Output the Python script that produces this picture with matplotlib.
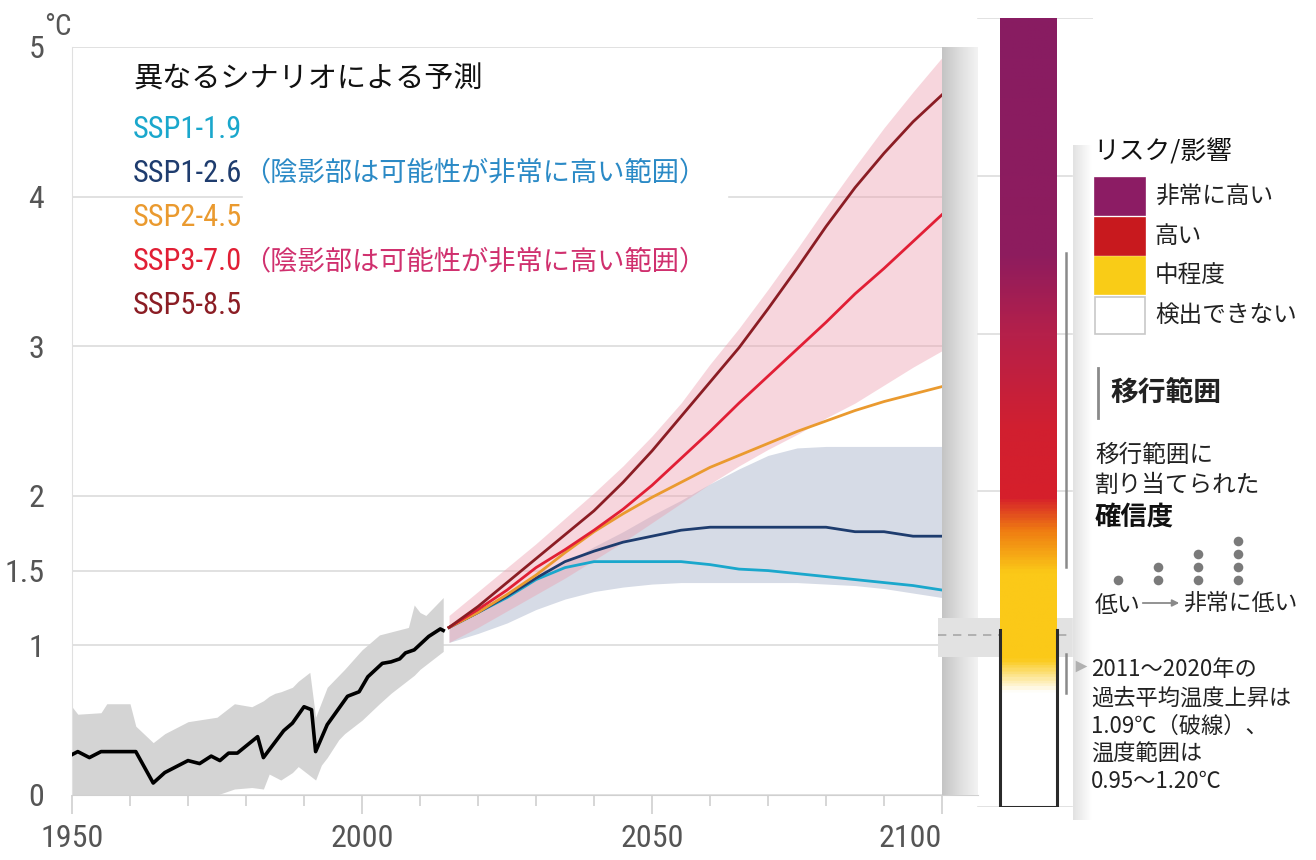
import os
import matplotlib.pyplot as plt
import numpy as np
from matplotlib import font_manager as fm
from matplotlib.colors import LinearSegmentedColormap
from matplotlib.patches import Rectangle

hist_years = [1950, 1951, 1953, 1955, 1961, 1964, 1966, 1970, 1972, 1974, 1975.5, 1977,
              1978.5, 1982, 1983, 1986.5, 1988, 1990, 1991.3, 1992, 1994, 1997.5, 1999.5,
              2001, 2003.5, 2005, 2006.5, 2007.5, 2009, 2011.5, 2013.5, 2014]
hist_mean = [0.27, 0.29, 0.25, 0.29, 0.29, 0.08, 0.15, 0.23, 0.21, 0.26, 0.23, 0.28,
             0.28, 0.39, 0.25, 0.43, 0.48, 0.59, 0.57, 0.29, 0.47, 0.66, 0.69,
             0.79, 0.88, 0.89, 0.91, 0.95, 0.97, 1.06, 1.11, 1.10]
hist_band_years = [1950, 1951, 1955, 1956, 1960, 1961, 1964, 1966, 1970, 1975, 1978, 1981,
                   1983, 1984, 1985, 1986, 1988, 1989, 1991, 1992, 1993, 1994, 1996, 1997,
                   2000, 2003, 2005, 2008, 2009, 2010, 2011, 2014]
hist_lo = [0, 0, 0, 0, 0, 0, 0, 0, 0, 0, 0.04, 0.05,
           0.04, 0.14, 0.12, 0.10, 0.15, 0.19, 0.13, 0.10, 0.20, 0.25, 0.37, 0.41,
           0.50, 0.61, 0.68, 0.77, 0.80, 0.84, 0.87, 0.96]
hist_hi = [0.59, 0.54, 0.55, 0.61, 0.61, 0.46, 0.35, 0.41, 0.49, 0.52, 0.61, 0.59,
           0.63, 0.66, 0.68, 0.69, 0.72, 0.76, 0.82, 0.52, 0.62, 0.72, 0.80, 0.84,
           0.97, 1.07, 1.09, 1.12, 1.27, 1.22, 1.20, 1.32]

# scenario projections
proj_years = [2015, 2020, 2025, 2030, 2035, 2040, 2045, 2050, 2055, 2060,
              2065, 2070, 2075, 2080, 2085, 2090, 2095, 2100]
ssp119 = [1.12, 1.22, 1.32, 1.44, 1.52, 1.56, 1.56, 1.56, 1.56, 1.54,
          1.51, 1.50, 1.48, 1.46, 1.44, 1.42, 1.40, 1.37]
ssp126 = [1.12, 1.22, 1.33, 1.45, 1.56, 1.63, 1.69, 1.73, 1.77, 1.79,
          1.79, 1.79, 1.79, 1.79, 1.76, 1.76, 1.73, 1.73]
ssp245 = [1.12, 1.22, 1.34, 1.47, 1.62, 1.76, 1.88, 1.99, 2.09, 2.19,
          2.27, 2.35, 2.43, 2.50, 2.57, 2.63, 2.68, 2.73]
ssp370 = [1.12, 1.24, 1.37, 1.52, 1.64, 1.77, 1.91, 2.07, 2.25, 2.43,
          2.62, 2.80, 2.98, 3.16, 3.35, 3.52, 3.70, 3.88]
ssp585 = [1.12, 1.26, 1.42, 1.58, 1.74, 1.90, 2.09, 2.30, 2.53, 2.76,
          2.99, 3.25, 3.52, 3.80, 4.06, 4.29, 4.50, 4.68]
ssp126_lo = [1.02, 1.08, 1.15, 1.24, 1.31, 1.36, 1.39, 1.41, 1.42, 1.42,
             1.42, 1.42, 1.42, 1.41, 1.40, 1.38, 1.35, 1.32]
ssp126_hi = [1.13, 1.24, 1.34, 1.45, 1.55, 1.66, 1.76, 1.87, 1.97, 2.08,
             2.18, 2.27, 2.32, 2.33, 2.33, 2.33, 2.33, 2.33]
ssp370_lo = [1.02, 1.12, 1.23, 1.34, 1.45, 1.57, 1.69, 1.82, 1.95, 2.08,
             2.20, 2.31, 2.41, 2.52, 2.62, 2.74, 2.86, 2.97]
ssp370_hi = [1.20, 1.36, 1.52, 1.68, 1.85, 2.02, 2.20, 2.40, 2.62, 2.88,
             3.12, 3.38, 3.65, 3.93, 4.20, 4.46, 4.70, 4.93]

scen_names = ["SSP1-1.9", "SSP1-2.6", "SSP2-4.5", "SSP3-7.0", "SSP5-8.5"]
scen_colors = ["#1aa7cc", "#1e3c6e", "#ea9a2f", "#e11f35", "#8b1d24"]
scen_values = [ssp119, ssp126, ssp245, ssp370, ssp585]

# burning ember (risk level vs warming)
ember_levels = [0.0, 0.72, 0.93, 1.48, 1.75, 1.96, 2.4, 3.0, 3.5, 5.0]
ember_colors = ["#ffffff", "#ffffff", "#fbc918", "#fbc918", "#ef7b12",
                "#d61f2b", "#d11f30", "#b5204a", "#8e1c5e", "#881c62"]
ember_outline_top = 1.12
transition_ranges = [(1.52, 3.51), (0.72, 0.97)]
recent_range = (0.95, 1.20)
recent_mean = 1.09

risk_labels = ["非常に高い", "高い", "中程度", "検出できない"]
risk_colors = ["#8c1c64", "#c8191e", "#f9cc17", "#ffffff"]
conf_dots = [1, 2, 3, 4]

jp = ["Noto Sans CJK JP", "DejaVu Sans"]


# the original numbers use a condensed face; take one if installed
def find_condensed():
    bad = ("bold", "italic", "oblique", "light", "thin", "black", "medium", "semi", "extra", "ultra")
    prefs = ["notosans-condensed", "roboto_condensed", "robotocondensed", "opensans_condensed",
             "opensans-condensed", "dejavusanscondensed", "liberationsansnarrow", "condensed", "narrow"]
    files = []
    for f in fm.fontManager.ttflist:
        base = os.path.basename(f.fname).lower().replace(" ", "")
        if ("condensed" in base or "narrow" in base) and not any(b in base.replace("condensed", "") for b in bad):
            files.append((base, f.fname))
    for p in prefs:
        for base, path in files:
            if p in base:
                return path
    return None


cond_path = find_condensed()


def narrow(size):
    if cond_path:
        return fm.FontProperties(fname=cond_path, size=size)
    return fm.FontProperties(family="Roboto", size=size * 0.9)


fig = plt.figure(figsize=(13.16, 8.6), dpi=100)

# ---- main panel ----
ax = fig.add_axes([72 / 1316, 65 / 860, 906 / 1316, 748 / 860])
ax.fill_between(hist_band_years, hist_lo, hist_hi, color="#d4d4d4", lw=0, zorder=1)
ax.fill_between(proj_years, ssp126_lo, ssp126_hi, color="#d6dbe6", lw=0, zorder=1.5)
ax.fill_between(proj_years, ssp370_lo, ssp370_hi, color="#ed9fae", alpha=0.42, lw=0, zorder=1.6)
for vals, col in zip(scen_values, scen_colors):
    ax.plot(proj_years, vals, color=col, lw=2.0, zorder=3)
ax.plot(hist_years, hist_mean, color="black", lw=2.6, zorder=4)

grad = LinearSegmentedColormap.from_list("g", ["#c4c4c4", "#dedede", "#f3f3f3"])
ax.imshow(np.linspace(0, 1, 100)[None, :], extent=(2100, 2106.2, 0, 5), cmap=grad,
          aspect="auto", zorder=5)

ax.set_xlim(1950, 2106.2)
ax.set_ylim(0, 5)
ax.set_yticks([0, 1, 1.5, 2, 3, 4, 5])
ax.set_yticklabels(["0", "1", "1.5", "2", "3", "4", "5"])
ax.set_xticks([1950, 2000, 2050, 2100])
ax.set_xticks(np.arange(1950, 2101, 10), minor=True)
ax.grid(axis="y", color="#dcdcdc", lw=1.2)
ax.set_axisbelow(True)
for s in ["top", "right"]:
    ax.spines[s].set_visible(False)
ax.spines["left"].set_color("#e0e0e0")
ax.spines["bottom"].set_color("#d0d0d0")
ax.tick_params(axis="x", which="major", length=14, width=1.2, color="#cfcfcf",
               labelcolor="#555555", pad=7)
ax.tick_params(axis="x", which="minor", length=8, width=1.2, color="#cfcfcf")
ax.tick_params(axis="y", length=0, labelcolor="#555555", pad=20)
for lab in ax.get_xticklabels() + ax.get_yticklabels():
    lab.set_fontproperties(narrow(23))
ax.get_xticklabels()[-1].set_horizontalalignment("right")

# ---- ember panel (its own 0-5 scale) ----
ax2 = fig.add_axes([938 / 1316, 53 / 860, 155 / 1316, 789 / 860])
ax2.set_xlim(0, 155)
ax2.set_ylim(0, 5)
ax2.axis("off")
for lv in [0, 1, 2, 3, 4, 5]:
    ax2.plot([40, 155 if lv >= 4 else 135], [lv, lv], color="#dddddd", lw=1.2, zorder=1)
ax2.fill_between([0, 135], recent_range[0], recent_range[1], color="#e2e2e2", lw=0, zorder=1.5)
ax2.plot([0, 135], [recent_mean, recent_mean], color="#a8a8a8", lw=1.2, ls=(0, (5, 4)), zorder=1.6)
ember_cmap = LinearSegmentedColormap.from_list(
    "ember", [(lv / 5, c) for lv, c in zip(ember_levels, ember_colors)])
ax2.imshow(np.linspace(0, 1, 600)[:, None], origin="lower", extent=(62, 119, 0, 5),
           cmap=ember_cmap, aspect="auto", zorder=3)
ax2.plot([62, 62, 119, 119], [ember_outline_top, 0, 0, ember_outline_top],
         color="#2a2a2a", lw=2.2, zorder=4, solid_joinstyle="miter")
for lo, hi in transition_ranges:
    ax2.plot([128, 128], [lo, hi], color="#8a8a8a", lw=1.8, zorder=4)

# ---- overlay in pixel coordinates ----
ov = fig.add_axes([0, 0, 1, 1])
ov.axis("off")

ov.add_patch(Rectangle((243, 158), 484, 130, color="white", zorder=1))
ov.add_patch(Rectangle((1073, 145), 243, 715, color="white", zorder=1))
shadow = LinearSegmentedColormap.from_list("s", ["#e2e2e2", "#ffffff"])
ov.imshow(np.linspace(0, 1, 50)[None, :], extent=(1073, 1092, 820, 145), cmap=shadow,
          aspect="auto", zorder=1.5)
ov.set_xlim(0, 1316)
ov.set_ylim(860, 0)

ov.text(44, 27, "°C", fontproperties=narrow(21), color="#555555", va="center", zorder=5)
ov.text(133, 80, "異なるシナリオによる予測", fontsize=21, color="#111111", family=jp,
        va="center", zorder=5)
for i, (name, col) in enumerate(zip(scen_names, scen_colors)):
    ov.text(133, 130 + 44 * i, name, fontproperties=narrow(22), color=col, va="center", zorder=5)
ov.text(243, 173, "（陰影部は可能性が非常に高い範囲）", fontsize=19.6, color="#2b8ac6",
        family=jp, va="center", zorder=5)
ov.text(243, 262, "（陰影部は可能性が非常に高い範囲）", fontsize=19.6, color="#d0306e",
        family=jp, va="center", zorder=5)

# right legend
ov.text(1093, 152, "リスク/影響", fontsize=18.5, color="#111111", family=jp, va="center", zorder=5)
for i, (lab, col) in enumerate(zip(risk_labels, risk_colors)):
    y0 = 178 + 39.5 * i
    ov.add_patch(Rectangle((1095, y0), 50, 37, facecolor=col,
                           edgecolor="#c8c8c8" if col == "#ffffff" else col, lw=1.2, zorder=5))
    ov.text(1155, y0 + 19, lab, fontsize=17, color="#222222", family=jp, va="center", zorder=5)
ov.plot([1098, 1098], [368, 418], color="#8a8a8a", lw=2, zorder=5)
ov.text(1110, 393, "移行範囲", fontsize=20, weight="bold", color="#222222", family=jp,
        va="center", zorder=5)
ov.text(1095, 455, "移行範囲に", fontsize=17, color="#222222", family=jp, va="center", zorder=5)
ov.text(1095, 485, "割り当てられた", fontsize=17, color="#222222", family=jp, va="center", zorder=5)
ov.text(1095, 517, "確信度", fontsize=19, weight="bold", color="#111111", family=jp,
        va="center", zorder=5)
for k, n in enumerate(conf_dots):
    ov.scatter([1118 + 40 * k] * n, [580 - 13 * j for j in range(n)], s=48,
               color="#7a7a7a", lw=0, zorder=5)
ov.text(1095, 606, "低い", fontsize=16.5, color="#222222", family=jp, va="center", zorder=5)
ov.annotate("", xy=(1182, 603), xytext=(1140, 603),
            arrowprops=dict(arrowstyle="-|>", color="#8a8a8a", lw=1.3, mutation_scale=10), zorder=5)
ov.text(1183, 603, "非常に低い", fontsize=16.5, color="#222222", family=jp, va="center", zorder=5)

ov.scatter([1081], [666], marker=">", s=70, color="#b0b0b0", lw=0, zorder=5)
notes = ["2011～2020年の", "過去平均温度上昇は", "1.09℃（破線）、", "温度範囲は", "0.95～1.20℃"]
for i, line in enumerate(notes):
    ov.text(1091, 670 + 28 * i, line, fontsize=16, color="#222222", family=jp,
            va="center", zorder=5)

fig.savefig("out.png", dpi=100, facecolor="white")
